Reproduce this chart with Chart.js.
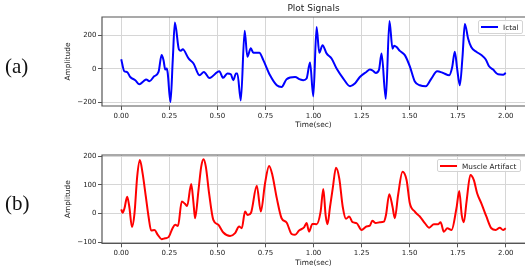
<!DOCTYPE html>
<html>
<head>
<meta charset="utf-8">
<script src="https://cdn.jsdelivr.net/npm/chart.js@4.4.1/dist/chart.umd.min.js"></script>
<style>
  html, body { margin: 0; padding: 0; background: #fff; }
  #wrap { position: relative; width: 525px; height: 275px; overflow: hidden; }
  canvas { position: absolute; left: 0; }
  .panel-tag { position: absolute; left: 5px; font-family: "Liberation Serif", "DejaVu Serif", serif; font-size: 21px; line-height: 21px; color: #111; }
  .legend { position: absolute; box-sizing: border-box; border: 1px solid #d4d4d4; border-radius: 2px; background: rgba(255, 255, 255, 0.85); font-family: "DejaVu Sans", sans-serif; font-size: 7.3px; color: #222; }
  .legend .swatch { position: absolute; left: 2px; width: 17px; top: 50%; height: 2px; margin-top: -1px; }
  .legend .label { position: absolute; left: 24px; top: 50%; transform: translateY(-50%); white-space: nowrap; }
</style>
</head>
<body>
<div id="wrap">
  <canvas id="ictalChart" width="525" height="137" style="top:0"></canvas>
  <canvas id="muscleChart" width="525" height="138" style="top:137px"></canvas>
  <div class="panel-tag" style="top:56px">(a)</div>
  <div class="panel-tag" style="top:193px">(b)</div>
  <div class="legend" id="ictalLegend" style="left:478px;top:20px;width:45px;height:14px"></div>
  <div class="legend" id="muscleLegend" style="left:437px;top:159px;width:84px;height:13px"></div>
</div>
<script>
const FONT = "DejaVu Sans";
const INK = "#222";

const xTicks = [0, 0.25, 0.5, 0.75, 1, 1.25, 1.5, 1.75, 2];
const ictalTicks = [-200, 0, 200];
const muscleTicks = [-100, 0, 100, 200];

const ictalLabel = "Ictal";
const ictalTime = [
  0.000, 0.016, 0.030, 0.047, 0.073, 0.095, 0.116, 0.130, 0.147, 0.171, 0.194, 0.210, 0.220, 0.229,
  0.237, 0.242, 0.256, 0.268, 0.279, 0.300, 0.310, 0.320, 0.350, 0.376, 0.407, 0.430, 0.459, 0.510,
  0.530, 0.552, 0.570, 0.583, 0.597, 0.604, 0.622, 0.642, 0.656, 0.674, 0.687, 0.718, 0.739, 0.774,
  0.809, 0.834, 0.860, 0.904, 0.930, 0.947, 0.964, 0.982, 0.999, 1.016, 1.030, 1.047, 1.068, 1.094,
  1.120, 1.155, 1.190, 1.215, 1.241, 1.275, 1.293, 1.306, 1.324, 1.341, 1.354, 1.376, 1.395, 1.411,
  1.420, 1.432, 1.449, 1.475, 1.501, 1.527, 1.553, 1.584, 1.613, 1.643, 1.674, 1.706, 1.721, 1.735,
  1.747, 1.761, 1.775, 1.787, 1.804, 1.821, 1.847, 1.873, 1.896, 1.913, 1.934, 1.960, 1.986, 2.000,
];
const ictalAmp = [
  58, -14, -18, -48, -67, -91, -73, -63, -73, -44, -18, 82, 52, -4,
  2, -27, -197, 52, 275, 116, 108, 116, 62, 32, -38, -18, -54, -14,
  -53, -27, -32, -67, -27, -27, -187, 227, 72, 122, 96, 96, 52, -38,
  -97, -107, -61, -48, -62, -67, -57, 38, -163, 248, 96, 141, 92, 62,
  2, -57, -103, -87, -48, -18, -4, -8, -24, -4, 92, -177, 284, 120,
  138, 130, 107, 82, 15, -75, -97, -103, -57, -14, -24, -38, 8, 102,
  2, -97, 72, 267, 181, 128, 102, 82, 56, 16, -4, -32, -34, -24,
];

const muscleLabel = "Muscle Artifact";
const muscleTime = [
  0.000, 0.007, 0.017, 0.031, 0.042, 0.056, 0.069, 0.083, 0.097, 0.111, 0.128, 0.142, 0.156, 0.173,
  0.190, 0.210, 0.228, 0.246, 0.267, 0.281, 0.295, 0.315, 0.332, 0.343, 0.364, 0.376, 0.384, 0.402,
  0.416, 0.428, 0.440, 0.457, 0.479, 0.505, 0.531, 0.566, 0.592, 0.613, 0.627, 0.644, 0.658, 0.675,
  0.705, 0.726, 0.748, 0.769, 0.786, 0.809, 0.834, 0.860, 0.886, 0.904, 0.925, 0.952, 0.964, 0.977,
  0.994, 1.016, 1.037, 1.051, 1.063, 1.073, 1.086, 1.100, 1.117, 1.134, 1.152, 1.169, 1.186, 1.203,
  1.224, 1.250, 1.275, 1.293, 1.306, 1.324, 1.345, 1.366, 1.377, 1.394, 1.411, 1.423, 1.440, 1.463,
  1.484, 1.501, 1.527, 1.553, 1.579, 1.602, 1.626, 1.649, 1.661, 1.678, 1.696, 1.718, 1.744, 1.758,
  1.771, 1.782, 1.796, 1.816, 1.834, 1.851, 1.873, 1.899, 1.925, 1.948, 1.969, 1.986, 2.000,
];
const muscleAmp = [
  15, 3, 19, 59, 24, -47, 1, 129, 187, 141, 59, -10, -59, -57,
  -74, -89, -86, -82, -51, -39, -43, 42, 34, 27, 103, 36, -16, 83,
  164, 190, 164, 71, -22, -39, -66, -78, -68, -45, -51, 7, -5, 3,
  97, 7, 106, 166, 135, 54, -16, -31, -71, -74, -59, -47, -33, -63,
  -36, -37, 7, 86, -5, -37, 24, 88, 160, 123, 24, -18, -10, -30,
  -33, -57, -45, -42, -25, -33, -30, -28, -5, 68, 24, -16, 65, 146,
  117, 36, 7, -10, -33, -49, -37, -37, -30, -63, -51, -57, 21, 79,
  -5, -30, 42, 135, 117, 71, 36, -10, -51, -57, -49, -57, -51,
];

Chart.defaults.font.family = FONT;

const fmtX = (v) => Number(v).toFixed(2);
const fmtY = (v) => (v < 0 ? "\u2212" + Math.abs(v) : String(v));

// matplotlib-style spines: left, top, bottom (right one falls off the page)
const frame = {
  id: "frame",
  afterDraw(chart) {
    const { ctx, chartArea: a } = chart;
    ctx.save();
    ctx.strokeStyle = "#555";
    ctx.lineWidth = 1.2;
    ctx.beginPath();
    ctx.moveTo(a.right + 1, a.top);
    ctx.lineTo(a.left, a.top);
    ctx.lineTo(a.left, a.bottom);
    ctx.lineTo(a.right + 1, a.bottom);
    ctx.stroke();
    ctx.restore();
  },
};

function xScale(height, titlePad) {
  return {
    type: "linear",
    min: -0.1,
    max: 2.1,
    afterBuildTicks: (s) => { s.ticks = xTicks.map((value) => ({ value })); },
    afterFit: (s) => { s.height = height; s.paddingLeft = 0; s.paddingRight = 0; },
    grid: { color: "#d6d6d6", lineWidth: 1, tickLength: 4, tickColor: "#555" },
    border: { display: false },
    ticks: { color: INK, font: { size: 7 }, padding: 1.5, maxRotation: 0, autoSkip: false, callback: fmtX },
    title: { display: true, text: "Time(sec)", color: INK, font: { size: 7.4 }, padding: { top: 0, bottom: titlePad } },
  };
}

function yScale(min, max, ticks) {
  return {
    type: "linear",
    min,
    max,
    afterBuildTicks: (s) => { s.ticks = ticks.map((value) => ({ value })); },
    afterFit: (s) => { s.width = 40; s.paddingTop = 0; s.paddingBottom = 0; },
    grid: { color: "#d6d6d6", lineWidth: 1, tickLength: 4, tickColor: "#555" },
    border: { display: false },
    ticks: { color: INK, font: { size: 7 }, padding: 1.5, autoSkip: false, callback: fmtY },
    title: { display: true, text: "Amplitude", color: INK, font: { size: 7.4 }, padding: { top: 1.5, bottom: 0 } },
  };
}

function makeChart(canvasId, { label, times, values, color, yMin, yMax, yTicks, padTop, xHeight, titlePad, heading }) {
  return new Chart(document.getElementById(canvasId), {
    type: "line",
    data: {
      datasets: [
        {
          label,
          data: times.map((t, i) => ({ x: t, y: values[i] })),
          borderColor: color,
          borderWidth: 2,
          pointRadius: 0,
          cubicInterpolationMode: "monotone",
          fill: false,
        },
      ],
    },
    options: {
      responsive: false,
      animation: false,
      devicePixelRatio: 1,
      layout: { padding: { left: 62, top: padTop, right: 0, bottom: 0 } },
      plugins: {
        legend: { display: false },
        tooltip: { enabled: false },
        title: heading
          ? { display: true, text: heading, fullSize: false, color: INK, font: { size: 9, weight: "normal" }, padding: { top: 3, bottom: 3.2 } }
          : { display: false },
      },
      scales: {
        x: xScale(xHeight, titlePad),
        y: yScale(yMin, yMax, yTicks),
      },
    },
    plugins: [frame],
  });
}

function buildLegend(id, label, color) {
  const box = document.getElementById(id);
  const swatch = document.createElement("span");
  swatch.className = "swatch";
  swatch.style.background = color;
  const text = document.createElement("span");
  text.className = "label";
  text.textContent = label;
  box.appendChild(swatch);
  box.appendChild(text);
}

makeChart("ictalChart", {
  label: ictalLabel, times: ictalTime, values: ictalAmp, color: "#0000ff",
  yMin: -220, yMax: 308, yTicks: ictalTicks,
  padTop: 0, xHeight: 31, titlePad: 7.5, heading: "Plot Signals",
});

makeChart("muscleChart", {
  label: muscleLabel, times: muscleTime, values: muscleAmp, color: "#ff0000",
  yMin: -103.5, yMax: 204.5, yTicks: muscleTicks,
  padTop: 18, xHeight: 31.7, titlePad: 7.5, heading: null,
});

buildLegend("ictalLegend", ictalLabel, "#0000ff");
buildLegend("muscleLegend", muscleLabel, "#ff0000");
</script>
</body>
</html>
